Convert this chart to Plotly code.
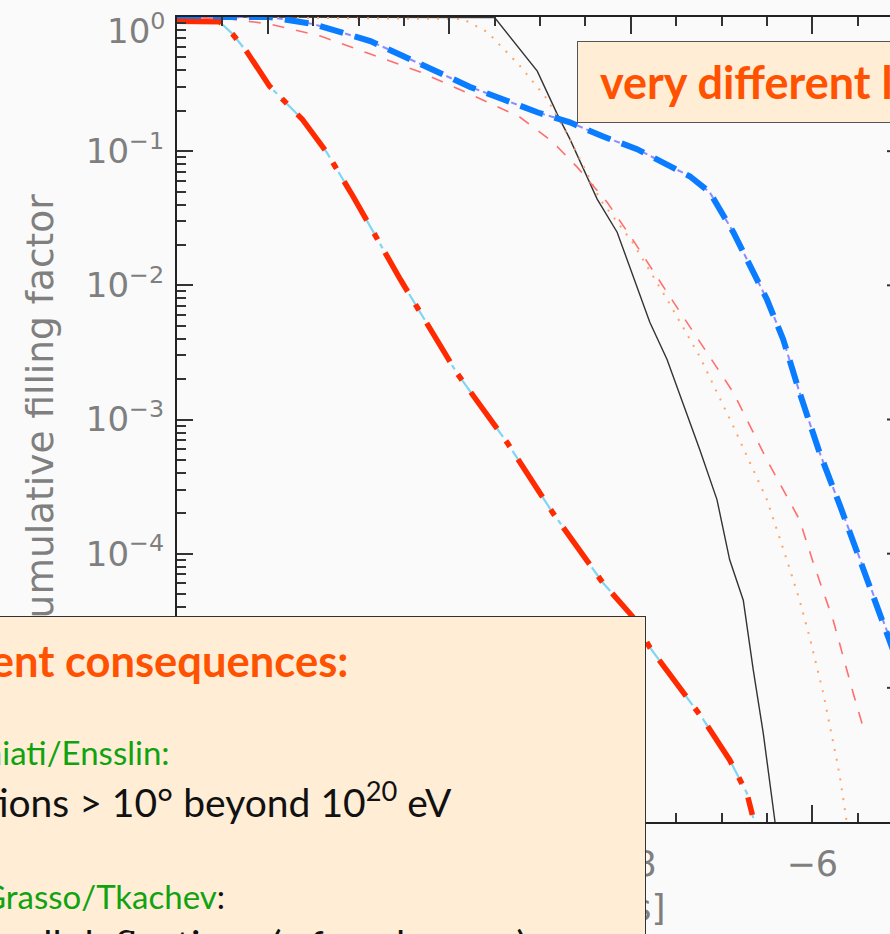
import plotly.graph_objects as go

# log10(B / Gauss) sample points and cumulative filling factor for each model
x_black = [-13.0, -9.50, -9.03, -8.81, -8.67, -8.37, -8.15, -7.79, -7.60, -7.24,
           -7.05, -6.91, -6.76, -6.65, -6.54, -6.41]
y_black = [1.0, 0.99, 0.395, 0.189, 0.123, 0.0439, 0.0249, 0.0053, 0.0028, 5.97e-4,
           2.53e-4, 9.0e-5, 4.5e-5, 1.36e-5, 4.6e-6, 1.0e-6]

x_orange = [-13.0, -9.85, -9.58, -9.22, -8.92, -8.67, -8.34, -7.98, -7.60, -7.24,
            -6.87, -6.50, -6.28, -6.14, -6.03, -5.88, -5.73, -5.69, -5.62]
y_orange = [1.0, 0.966, 0.773, 0.431, 0.244, 0.123, 0.0439, 0.0209, 0.00787, 0.00295,
            8.9e-4, 2.53e-4, 9.0e-5, 4.5e-5, 2.4e-5, 9.2e-6, 2.9e-6, 2.06e-6, 1.0e-6]

x_pink = [-13.0, -12.42, -11.98, -11.42, -10.87, -10.32, -9.77, -9.22, -8.86, -8.59,
          -8.26, -7.98, -7.60, -7.24, -6.87, -6.50, -6.14, -5.99, -5.77, -5.55, -5.44]
y_pink = [1.0, 0.966, 0.887, 0.721, 0.530, 0.389, 0.266, 0.179, 0.117, 0.076,
          0.0416, 0.0220, 0.00887, 0.00376, 0.00159, 5.0e-4, 1.79e-4, 8.6e-5, 3.2e-5,
          9.2e-6, 5.1e-6]

x_blue = [-13.0, -11.98, -11.50, -10.87, -10.51, -10.14, -9.77, -9.41, -9.03, -8.67,
          -8.31, -7.93, -7.57, -7.35, -7.13, -6.87, -6.50, -6.32, -6.14, -5.92, -5.69,
          -5.47, -5.25, -5.14, -5.00]
y_blue = [1.0, 1.0, 0.887, 0.662, 0.512, 0.395, 0.301, 0.244, 0.195, 0.164,
          0.129, 0.1035, 0.0773, 0.065, 0.0494, 0.0249, 0.00787, 0.00395, 0.00159,
          5.68e-4, 2.24e-4, 9.0e-5, 3.63e-5, 2.28e-5, 1.2e-5]

x_red = [-13.0, -12.53, -12.39, -12.23, -11.98, -11.62, -11.35, -11.06, -10.54, -9.92,
         -9.36, -8.86, -8.31, -7.98, -7.79, -7.20, -6.91, -6.72, -6.66]
y_red = [0.93, 0.92, 0.75, 0.55, 0.305, 0.173, 0.098, 0.046, 0.0111, 0.00224,
         6.7e-4, 2.02e-4, 6.1e-5, 3.4e-5, 2.0e-5, 5.8e-6, 2.9e-6, 1.64e-6, 1.13e-6]

x_cyan = [-13.0, -12.53, -12.39, -12.23, -11.98, -11.62, -11.35, -11.06, -10.54, -9.92,
          -9.36, -8.86, -8.31, -7.98, -7.79, -7.20, -6.91, -6.72, -6.65]
y_cyan = [0.93, 0.92, 0.75, 0.55, 0.305, 0.173, 0.098, 0.046, 0.0111, 0.00224,
          6.7e-4, 2.02e-4, 6.1e-5, 3.4e-5, 2.0e-5, 5.8e-6, 2.9e-6, 1.64e-6, 1.07e-6]

# axis ticks (the 10^0 label sits a little below its tick, so it is written separately)
x_tick_vals = [-12, -10, -8, -6]
x_tick_text = ["\u221212", "\u221210", "\u22128", "\u22126"]
y_tick_vals = [1, 1e-1, 1e-2, 1e-3, 1e-4, 1e-5, 1e-6]
y_tick_text = ["", "10<sup>\u22121</sup>", "10<sup>\u22122</sup>",
               "10<sup>\u22123</sup>", "10<sup>\u22124</sup>", "10<sup>\u22125</sup>",
               "10<sup>\u22126</sup>"]
y_top_label = "10<sup>0</sup>"

W, H = 890, 934
ML, MR, MT, MB = 177, 0, 17, 112
PW, PH = W - ML - MR, H - MT - MB


def px(p):
    return (p - ML) / PW


def py(p):
    return (H - MB - p) / PH


BG = "#FAFAFA"
AXIS_TXT = "#7f7f7f"
AXIS_FONT = "DejaVu Sans"
ORANGE = "#FF5200"
GREEN = "#0FA30F"
BOX = "#FFEDD6"
SLIDE_FONT = "Lato, sans-serif"

fig = go.Figure()


def add_line(x, y, color, width, dash):
    fig.add_trace(go.Scatter(x=x, y=y, mode="lines",
                             line=dict(color=color, width=width, dash=dash),
                             showlegend=False, hoverinfo="skip"))


add_line(x_black, y_black, "#333333", 1.4, "solid")
add_line(x_orange, y_orange, "#FFA366", 2, "2px,8px")
add_line(x_pink, y_pink, "#FF6F6F", 1.6, "12px,12px")
add_line(x_blue, y_blue, "#8C8CFF", 2, "6px,4px")
add_line(x_blue, y_blue, "#0A7CFF", 6, "24px,12px")
add_line(x_cyan, y_cyan, "#7FD6F2", 2.2, "30px,6px,5px,6px")
add_line(x_red, y_red, "#FF2A00", 5.5, "45px,15px,7px,15px")

# small inner ticks of the right-hand axis
shapes = [dict(type="line", xref="paper", yref="y", x0=px(887), x1=1.0, y0=v, y1=v,
               line=dict(color="#333333", width=2))
          for v in [1e-1, 1e-2, 1e-3, 1e-4, 1e-5]]


def note(text, x, y, size, color, family=SLIDE_FONT, xanchor="right", **kw):
    return dict(text=text, x=x, y=y, xref="paper", yref="paper", xanchor=xanchor,
                yanchor="middle", showarrow=False,
                font=dict(family=family, size=size, color=color), **kw)


annotations = [
    note(y_top_label, px(167), py(29), 34, AXIS_TXT, family=AXIS_FONT),
    note("cumulative filling factor", px(40), py(417), 37.5, AXIS_TXT,
         family=AXIS_FONT, xanchor="center", textangle=-90),
    note("log<sub>10</sub>(B) [Gauss]", px(668), py(910), 36, AXIS_TXT, family=AXIS_FONT),
    # upper call-out
    dict(text=" ", x=px(577), y=py(41), xref="paper", yref="paper",
         xanchor="left", yanchor="top", showarrow=False, width=420, height=80,
         bgcolor=BOX, bordercolor="#555555", borderwidth=1, borderpad=0),
    note("<b>very different levels</b>", px(598), py(82), 45, ORANGE, xanchor="left"),
    # lower call-out
    dict(text=" ", x=px(646), y=py(616), xref="paper", yref="paper",
         xanchor="right", yanchor="top", showarrow=False, width=700, height=360,
         bgcolor=BOX, bordercolor="#333333", borderwidth=1, borderpad=0),
    note("<b>Different consequences:</b>", px(350), py(660), 43.5, ORANGE),
    note("Sigl/Miniati/Ensslin:", px(172), py(752), 33, GREEN),
    note("deflections &gt; 10\u00b0 beyond 10<sup>20</sup> eV", px(454), py(799), 39,
         "#111111"),
    note("<span style='color:%s'>Dolag/Springel/Grasso/Tkachev</span>:" % GREEN,
         px(227), py(896), 33, "#111111"),
    note("small deflections (a few degrees)", px(529), py(944), 39, "#111111"),
]

fig.update_layout(
    width=W, height=H,
    margin=dict(l=ML, r=MR, t=MT, b=MB, pad=0),
    paper_bgcolor=BG, plot_bgcolor=BG,
    shapes=shapes, annotations=annotations,
    xaxis=dict(range=[-13, -13 + PW / 90.75], tickmode="array",
               tickvals=x_tick_vals, ticktext=x_tick_text,
               ticks="inside", ticklen=17, tickwidth=2, tickcolor="#333333",
               showline=True, linecolor="#222222", linewidth=2, mirror="ticks",
               showgrid=False, zeroline=False, ticklabelstandoff=10,
               tickfont=dict(family=AXIS_FONT, size=35, color=AXIS_TXT),
               minor=dict(dtick=0.5, tick0=0, ticks="inside", ticklen=9, tickwidth=2,
                          tickcolor="#333333", showgrid=False)),
    yaxis=dict(type="log", range=[-6, 0], tickmode="array",
               tickvals=y_tick_vals, ticktext=y_tick_text,
               ticks="inside", ticklen=16, tickwidth=2, tickcolor="#333333",
               showline=True, linecolor="#222222", linewidth=2, mirror=False,
               showgrid=False, zeroline=False, ticklabelstandoff=4,
               tickfont=dict(family=AXIS_FONT, size=34, color=AXIS_TXT),
               minor=dict(dtick="D1", ticks="inside", ticklen=9, tickwidth=2,
                          tickcolor="#333333", showgrid=False)),
)

fig.write_html("out.html")
